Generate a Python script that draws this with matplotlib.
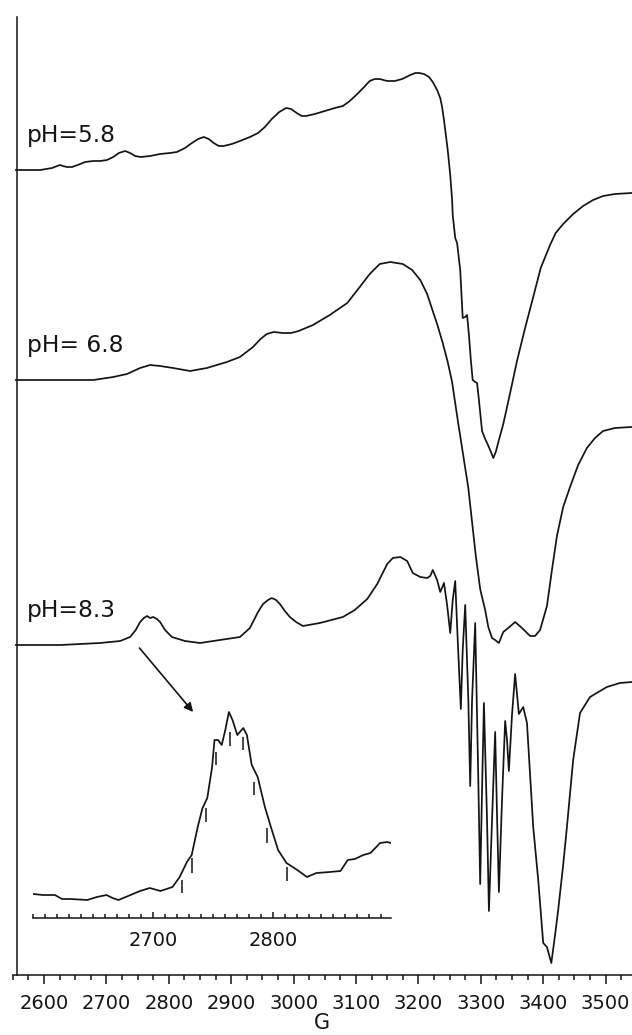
import matplotlib
matplotlib.use("Agg")
import matplotlib.pyplot as plt
from matplotlib.ticker import MultipleLocator, FixedLocator

plt.rcParams['font.family'] = ['DejaVu Sans']

# ---- EPR spectra (field in G, derivative signal in arbitrary units) ----
field_58 = [2555, 2594, 2613, 2621, 2626, 2630, 2637, 2645, 2654, 2666,
            2679, 2690, 2701, 2711, 2720, 2730, 2738, 2746, 2755, 2770,
            2786, 2802, 2813, 2826, 2837, 2847, 2856, 2864, 2872, 2880,
            2888, 2901, 2914, 2930, 2943, 2954, 2965, 2977, 2988, 2996,
            3005, 3013, 3020, 3034, 3050, 3066, 3079, 3090, 3102, 3113,
            3122, 3130, 3138, 3150, 3162, 3174, 3187, 3195, 3201, 3209,
            3217, 3223, 3230, 3235, 3238, 3241, 3244, 3247, 3251, 3254,
            3255, 3259, 3262, 3267, 3271, 3275, 3278, 3281, 3284, 3287,
            3291, 3294, 3297, 3302, 3307, 3310, 3315, 3320, 3324, 3329,
            3336, 3347, 3358, 3371, 3384, 3396, 3411, 3420, 3432, 3448,
            3464, 3480, 3496, 3515, 3542]
signal_58 = [0, 0, 2, 4, 5, 4, 3, 3, 5, 8,
             9, 9, 10, 13, 17, 19, 17, 14, 13, 14,
             16, 17, 18, 22, 27, 31, 33, 31, 27, 24,
             24, 26, 29, 33, 37, 43, 51, 58, 62, 61,
             57, 54, 54, 56, 59, 62, 64, 69, 76, 83,
             89, 91, 91, 89, 89, 91, 95, 97, 97, 96,
             93, 88, 80, 72, 63, 50, 35, 20, -5, -30,
             -45, -68, -73, -100, -148, -147, -145, -165, -190, -210,
             -212, -213, -230, -261, -269, -273, -280, -288, -282, -270,
             -254, -223, -191, -158, -127, -98, -75, -63, -54, -44,
             -36, -30, -26, -24, -23]

field_68 = [2555, 2610, 2679, 2711, 2733, 2754, 2770, 2786, 2807, 2834,
            2861, 2893, 2914, 2935, 2947, 2957, 2968, 2983, 2996, 3008,
            3031, 3058, 3086, 3106, 3122, 3138, 3155, 3175, 3190, 3203,
            3214, 3223, 3231, 3239, 3247, 3254, 3263, 3271, 3280, 3286,
            3292, 3299, 3302, 3307, 3312, 3318, 3323, 3329, 3336, 3344,
            3355, 3366, 3379, 3387, 3395, 3406, 3414, 3422, 3432, 3443,
            3456, 3470, 3483, 3496, 3515, 3542]
signal_68 = [0, 0, 0, 3, 6, 12, 15, 14, 12, 9,
             12, 18, 23, 33, 41, 46, 48, 47, 47, 49,
             55, 65, 77, 93, 106, 116, 118, 116, 110, 100,
             86, 69, 54, 37, 18, -2, -40, -72, -108, -142,
             -176, -209, -217, -230, -247, -258, -260, -263, -252, -248,
             -242, -248, -256, -256, -250, -226, -190, -156, -127, -107,
             -85, -68, -58, -51, -48, -47]

field_83 = [2555, 2626, 2690, 2722, 2738, 2747, 2754, 2760, 2765, 2770,
            2775, 2781, 2786, 2794, 2805, 2826, 2850, 2882, 2914, 2930,
            2943, 2951, 2959, 2965, 2972, 2978, 2986, 2994, 3004, 3015,
            3042, 3079, 3098, 3118, 3134, 3150, 3159, 3171, 3182, 3191,
            3203, 3214, 3219, 3223, 3230, 3235, 3241, 3246, 3251, 3255,
            3259, 3263, 3268, 3271, 3275, 3280, 3283, 3286, 3291, 3296,
            3299, 3302, 3305, 3310, 3313, 3318, 3323, 3326, 3329, 3334,
            3339, 3342, 3345, 3350, 3355, 3361, 3368, 3374, 3384, 3392,
            3400, 3406, 3413, 3419, 3424, 3432, 3438, 3448, 3459, 3475,
            3502, 3523, 3542]
signal_83 = [0, 0, 2, 4, 8, 15, 23, 27, 29, 27,
             28, 26, 23, 15, 8, 4, 2, 5, 8, 17,
             33, 41, 45, 47, 45, 41, 34, 28, 23, 19,
             22, 28, 35, 46, 61, 81, 87, 88, 84, 72,
             68, 67, 69, 75, 65, 53, 62, 40, 12, 45,
             64, 5, -64, -5, 40, -55, -141, -55, 22, -135,
             -239, -145, -58, -175, -266, -175, -87, -170, -247, -155,
             -76, -95, -126, -70, -29, -69, -62, -78, -182, -235,
             -298, -302, -318, -290, -265, -220, -182, -115, -68, -52,
             -42, -38, -37]

spectra_labels = ["pH=5.8", "pH= 6.8", "pH=8.3"]
spectra_offsets = [805, 595, 330]

# ---- expanded view of the low-field (g_parallel) feature at pH 8.3 ----
inset_field = [2600, 2608, 2618, 2624, 2631, 2645, 2653, 2661, 2666, 2671,
               2679, 2689, 2697, 2706, 2716, 2722, 2728, 2732, 2737, 2741,
               2745, 2749, 2751, 2754, 2757, 2760, 2763, 2766, 2770, 2775,
               2778, 2782, 2787, 2793, 2798, 2804, 2811, 2820, 2828, 2836,
               2847, 2856, 2862, 2868, 2875, 2881, 2889, 2895, 2898]
inset_signal = [24, 23, 23, 19, 19, 18, 21, 23, 20, 18,
                22, 27, 30, 27, 31, 41, 56, 63, 91, 110,
                120, 151, 178, 178, 173, 188, 206, 198, 183, 190,
                183, 153, 141, 111, 91, 68, 55, 48, 41, 45,
                46, 47, 58, 59, 63, 65, 75, 76, 75]

# superhyperfine line positions (stick marks)
stick_field = [2724, 2732, 2744, 2752, 2764, 2775, 2784, 2795, 2811]
stick_top = [38, 60, 110, 166, 186, 181, 136, 90, 51]
stick_bottom = [25, 45, 96, 153, 172, 168, 123, 75, 37]

main_ticks = [2600, 2700, 2800, 2900, 3000, 3100, 3200, 3300, 3400, 3500]
inset_ticks = [2700, 2800]

INK = '#141414'
W, H = 632, 1035

fig = plt.figure(figsize=(W / 100, H / 100), dpi=100)
ax = fig.add_axes([12.8 / W, 60 / H, 619.2 / W, 958 / H])

for f, s, off in zip([field_58, field_68, field_83],
                     [signal_58, signal_68, signal_83], spectra_offsets):
    ax.plot(f, [v + off for v in s], color=INK, lw=1.25,
            solid_joinstyle='round')

for lab, off in zip(spectra_labels, spectra_offsets):
    ax.text(2573, off + 28, lab, fontsize=16.8, color=INK,
            ha='left', va='baseline')

ax.annotate('', xy=(2839, 263), xytext=(2753, 327),
            arrowprops=dict(arrowstyle='-|>', color=INK, lw=1.2,
                            mutation_scale=13, shrinkA=0, shrinkB=0))

ax.set_xlim(2550, 3542.3)
ax.set_ylim(0, 958)
for side in ('top', 'right'):
    ax.spines[side].set_visible(False)
ax.spines['left'].set_position(('data', 2556))
for side in ('left', 'bottom'):
    ax.spines[side].set_linewidth(1.1)
    ax.spines[side].set_color(INK)
ax.set_yticks([])
ax.xaxis.set_major_locator(FixedLocator(main_ticks))
ax.xaxis.set_minor_locator(MultipleLocator(25))
ax.tick_params(axis='x', which='major', direction='out', length=6.5,
               width=1.1, labelsize=14, pad=7, colors=INK)
ax.tick_params(axis='x', which='minor', direction='out', length=3.6,
               width=1.1, colors=INK)
ax.set_xlabel('G', fontsize=15, color=INK, labelpad=0)
ax.patch.set_visible(False)

# inset axes
axi = fig.add_axes([33.3 / W, (H - 918) / H, 357.6 / W, 218 / H])
axi.plot(inset_field, inset_signal, color=INK, lw=1.25,
         solid_joinstyle='round')
axi.vlines(stick_field, stick_bottom, stick_top, color=INK, lw=1.1)
axi.set_xlim(2600, 2898)
axi.set_ylim(0, 218)
for side in ('top', 'right', 'left'):
    axi.spines[side].set_visible(False)
axi.spines['bottom'].set_linewidth(1.1)
axi.spines['bottom'].set_color(INK)
axi.set_yticks([])
axi.xaxis.set_major_locator(FixedLocator(inset_ticks))
axi.xaxis.set_minor_locator(MultipleLocator(10))
axi.tick_params(axis='x', which='major', direction='in', length=4,
                width=1.1, labelsize=14, pad=9, colors=INK)
axi.tick_params(axis='x', which='minor', direction='in', length=3,
                width=1.1, colors=INK)
axi.patch.set_visible(False)

fig.savefig('out.png', dpi=100)
